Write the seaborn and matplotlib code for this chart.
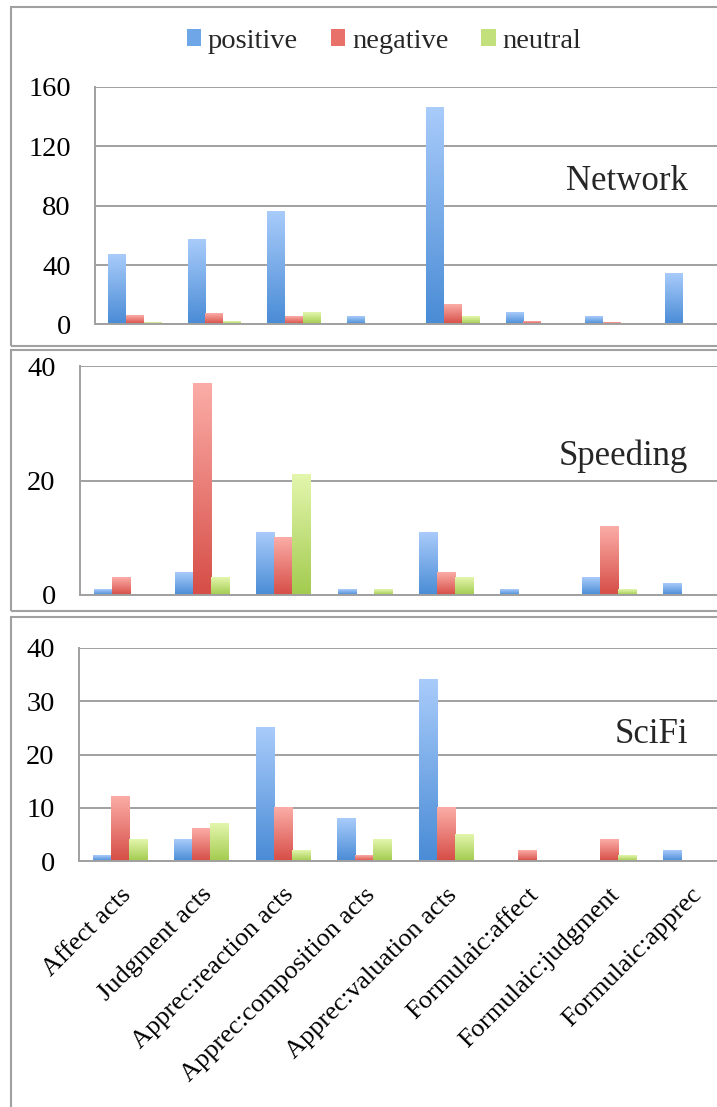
import numpy as np
import pandas as pd
import matplotlib
matplotlib.use("Agg")
import matplotlib.pyplot as plt
import seaborn as sns
from matplotlib.colors import LinearSegmentedColormap
from matplotlib.patches import Rectangle, Patch

# ---- data -------------------------------------------------------------
categories = [
    "Affect acts", "Judgment acts", "Apprec:reaction acts",
    "Apprec:composition acts", "Apprec:valuation acts",
    "Formulaic:affect", "Formulaic:judgment", "Formulaic:apprec",
]
sentiments = ["positive", "negative", "neutral"]

network_positive = [47, 57, 76, 5, 146, 8, 5, 34]
network_negative = [6, 7, 5, 0, 13, 2, 1, 0]
network_neutral = [1, 2, 8, 0, 5, 0, 0, 0]

speeding_positive = [1, 4, 11, 1, 11, 1, 3, 2]
speeding_negative = [3, 37, 10, 0, 4, 0, 12, 0]
speeding_neutral = [0, 3, 21, 1, 3, 0, 1, 0]

scifi_positive = [1, 4, 25, 8, 34, 0, 0, 2]
scifi_negative = [12, 6, 10, 1, 10, 2, 4, 0]
scifi_neutral = [4, 7, 2, 4, 5, 0, 1, 0]

panel_names = ["Network", "Speeding", "SciFi"]
y_ticks = [[0, 40, 80, 120, 160], [0, 20, 40], [0, 10, 20, 30, 40]]

# ---- style ------------------------------------------------------------
sns.set_style("white")
plt.rcParams["font.family"] = ["Liberation Serif", "DejaVu Serif"]

GRAY = "#a0a0a0"
# (top, bottom) colours of each bar's vertical gradient
gradients = {
    "positive": ("#a8cbfa", "#4a8cd6"),
    "negative": ("#fbaca6", "#d64e47"),
    "neutral": ("#e3f6ad", "#a3cb4f"),
}
solid = {k: v[1] for k, v in gradients.items()}
legend_col = {"positive": "#6ea6e8", "negative": "#e8716a", "neutral": "#c2e07c"}


def frame(series):
    rows = []
    for sent, vals in zip(sentiments, series):
        for cat, v in zip(categories, vals):
            rows.append({"category": cat, "sentiment": sent, "count": v})
    return pd.DataFrame(rows)


frames = [
    frame([network_positive, network_negative, network_neutral]),
    frame([speeding_positive, speeding_negative, speeding_neutral]),
    frame([scifi_positive, scifi_negative, scifi_neutral]),
]

W, H = 717, 1107
fig = plt.figure(figsize=(W / 100, H / 100), dpi=100)

# axes boxes in pixels: (left, y of zero line, y of top gridline)
boxes = [(95, 324.5, 87), (80, 595, 366), (79, 861.3, 647.7)]
right_px = 731
label_baselines = [190, 465, 742.7]

for i, (df, (lx, y0, y1)) in enumerate(zip(frames, boxes)):
    ax = fig.add_axes([lx / W, 1 - y0 / H, (right_px - lx) / W, (y0 - y1) / H])
    sns.barplot(data=df, x="category", y="count", hue="sentiment",
                order=categories, hue_order=sentiments, palette=solid,
                width=0.667, errorbar=None, legend=False, ax=ax, zorder=2)

    # replace flat fills with top-to-bottom gradients
    for container, sent in zip(ax.containers, sentiments):
        cmap = LinearSegmentedColormap.from_list(
            sent, [gradients[sent][1], gradients[sent][0]])
        for bar in container:
            h = bar.get_height()
            bar.set_facecolor("none")
            bar.set_edgecolor("none")
            if h <= 0:
                continue
            x0 = bar.get_x()
            ax.imshow(np.linspace(0, 1, 64).reshape(-1, 1), cmap=cmap,
                      origin="lower", aspect="auto", interpolation="bilinear",
                      extent=(x0, x0 + bar.get_width(), 0, h), zorder=2)

    ticks = y_ticks[i]
    ax.set_xlim(-0.5, len(categories) - 0.5)
    ax.set_ylim(0, ticks[-1])
    ax.set_yticks(ticks)
    ax.yaxis.grid(True, color=GRAY, linewidth=1.4)
    ax.set_axisbelow(True)
    for side in ("top", "right"):
        ax.spines[side].set_visible(False)
    for side in ("left", "bottom"):
        ax.spines[side].set_color(GRAY)
        ax.spines[side].set_linewidth(1.4)
    ax.tick_params(axis="y", length=6.5, width=1.2, color=GRAY, pad=11,
                   labelsize=20.5, labelcolor="black")
    ax.set_xlabel("")
    ax.set_ylabel("")

    if i < 2:
        ax.tick_params(axis="x", length=0, labelbottom=False)
    else:
        ax.set_xticks(range(len(categories)))
        ax.set_xticklabels(categories, rotation=45, ha="right",
                           va="top", rotation_mode="anchor")
        ax.set_xticks(np.arange(-0.5, len(categories), 1.0), minor=True)
        ax.tick_params(axis="x", which="major", length=0, pad=16,
                       labelsize=19, labelcolor="black")
        ax.tick_params(axis="x", which="minor", length=5, width=1.2,
                       color=GRAY, direction="out")

    fig.text(688 / W, 1 - label_baselines[i] / H, panel_names[i],
             ha="right", va="baseline", fontsize=25)

# panel frames
frames_px = [(6.7, 345.7), (350, 610.7), (616.7, 1200)]
for top, bottom in frames_px:
    fig.add_artist(Rectangle((10.7 / W, 1 - bottom / H), 1.2, (bottom - top) / H,
                             transform=fig.transFigure, fill=False,
                             edgecolor=GRAY, linewidth=1.5, clip_on=False))

handles = [Patch(facecolor=legend_col[s], edgecolor="none") for s in sentiments]
fig.legend(handles, sentiments, loc="center", bbox_to_anchor=(384 / W, 1 - 41 / H),
           ncol=3, frameon=False, fontsize=20.5, handlelength=0.5,
           handleheight=0.5, handletextpad=0.25, columnspacing=1.15)

fig.savefig("out.png", dpi=100)
